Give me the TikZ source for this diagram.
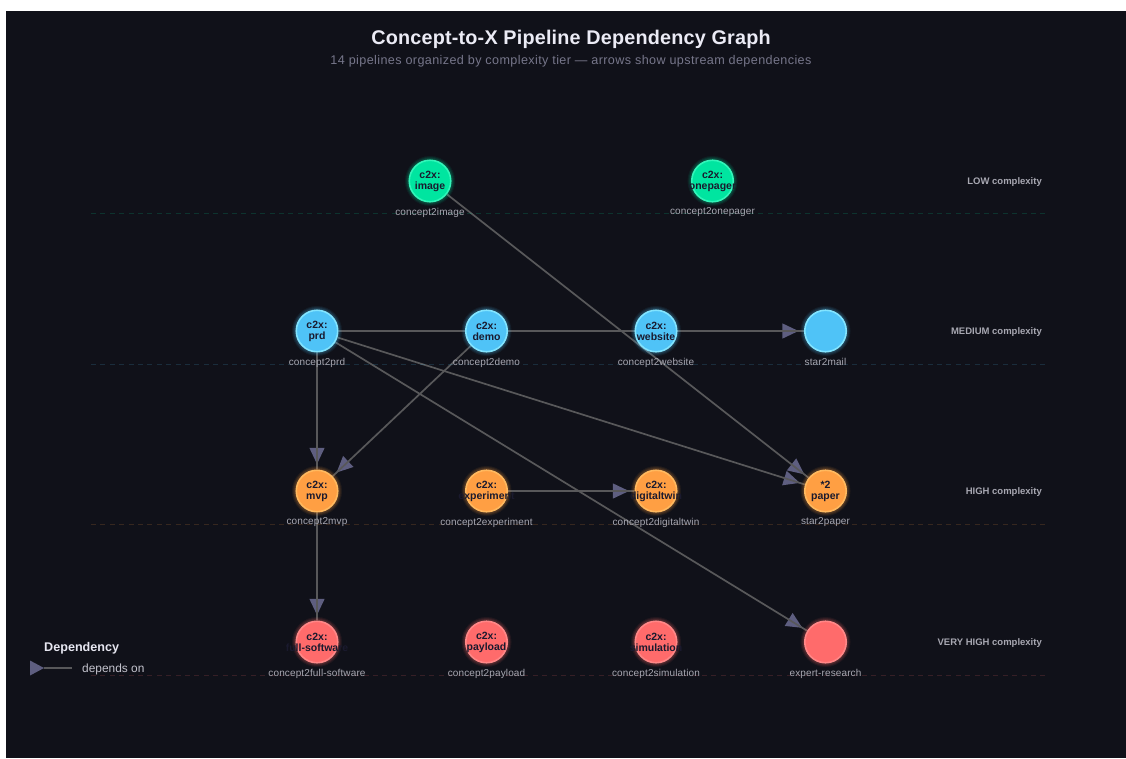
\documentclass[tikz,border=0pt]{standalone}
\usepackage{fontspec}
\setmainfont{Liberation Sans}
\usetikzlibrary{decorations.markings}
\pgfdeclarelayer{bgl}
\pgfdeclarelayer{edges}
\pgfsetlayers{bgl,edges,main}
\definecolor{bgc}{RGB}{16,17,25}
\definecolor{cgreen}{RGB}{0,229,160}
\definecolor{sgreen}{RGB}{50,245,185}
\definecolor{cblue}{RGB}{79,195,247}
\definecolor{sblue}{RGB}{130,228,255}
\definecolor{corange}{RGB}{255,159,67}
\definecolor{sorange}{RGB}{255,185,95}
\definecolor{cred}{RGB}{255,107,107}
\definecolor{sred}{RGB}{255,135,135}
\definecolor{ink}{RGB}{26,26,46}
\definecolor{linec}{RGB}{88,88,90}
\definecolor{tipc}{RGB}{94,94,128}
\definecolor{subc}{RGB}{168,168,178}
\newcommand\twol[2]{\vbox{\baselineskip=11pt\hbox to 0pt{\hss #1\hss}\hbox to 0pt{\hss #2\hss}}}
\tikzset{
  pnode/.style n args={2}{circle,minimum size=41.5pt,inner sep=0pt,fill=#1,draw=#2,line width=1.6pt,text=ink,
    font=\fontsize{10.5}{11}\selectfont\bfseries,
    preaction={draw=#1,draw opacity=.07,line width=8.5pt},
    preaction={draw=#1,draw opacity=.09,line width=6.5pt},
    preaction={draw=#1,draw opacity=.12,line width=4.5pt}},
  gnode/.style={pnode={cgreen}{sgreen}},
  bnode/.style={pnode={cblue}{sblue}},
  onode/.style={pnode={corange}{sorange}},
  rnode/.style={pnode={cred}{sred}},
  sublab/.style={text=subc,font=\fontsize{10}{11}\selectfont\addfontfeature{LetterSpace=1.3},inner sep=0pt},
  tierlab/.style={text=subc,font=\fontsize{9.5}{11}\selectfont\bfseries,anchor=east,inner sep=0pt},
  tierline/.style={draw=#1,draw opacity=.16,line width=.9pt,dash pattern=on 5pt off 4.4pt},
  edge/.style={draw=linec,line width=1.7pt,preaction={decorate,decoration={markings,
    mark=at position -5.5pt with {\fill[tipc] (-16,-7.6) -- (0,0) -- (-16,7.6) -- cycle;}}}},
}
\begin{document}
\begin{tikzpicture}[x=1pt,y=-1pt]
\useasboundingbox (0,0) rectangle (1126,758);
\begin{pgfonlayer}{bgl}
\fill[white] (0,0) rectangle (1126,758);
\fill[bgc] (6,11) rectangle (1126,758);
\end{pgfonlayer}
\node[text={rgb,255:red,235;green,235;blue,245},font=\fontsize{19.8}{22}\selectfont\bfseries\addfontfeature{LetterSpace=1}] (title) at (571,39) {Concept-to-X Pipeline Dependency Graph};
\node[text={rgb,255:red,118;green,118;blue,138},font=\fontsize{12.6}{14}\selectfont\addfontfeature{LetterSpace=3.1}] (subtitle) at (571,61) {14 pipelines organized by complexity tier — arrows show upstream dependencies};
\coordinate (t1a) at (91,213); \coordinate (t1b) at (1046,213);
\coordinate (t2a) at (91,364.5); \coordinate (t2b) at (1046,364.5);
\coordinate (t3a) at (91,524.5); \coordinate (t3b) at (1046,524.5);
\coordinate (t4a) at (91,675); \coordinate (t4b) at (1046,675);
\draw[tierline=cgreen] (t1a) -- (t1b);
\draw[tierline=cblue] (t2a) -- (t2b);
\draw[tierline=corange] (t3a) -- (t3b);
\draw[tierline=cred] (t4a) -- (t4b);
\node[gnode] (image) at (430,181) {\twol{c2x:}{image}};
\node[gnode] (onepager) at (712.5,181) {\twol{c2x:}{onepager}};
\node[bnode] (prd) at (317,331) {\twol{c2x:}{prd}};
\node[bnode] (demo) at (486.5,331) {\twol{c2x:}{demo}};
\node[bnode] (website) at (656,331) {\twol{c2x:}{website}};
\node[bnode] (mail) at (825.5,331) {};
\node[onode] (mvp) at (317,491) {\twol{c2x:}{mvp}};
\node[onode] (experiment) at (486.5,491) {\twol{c2x:}{experiment}};
\node[onode] (digitaltwin) at (656,491) {\twol{c2x:}{digitaltwin}};
\node[onode] (paper) at (825.5,491) {\twol{*2}{paper}};
\node[rnode] (fullsw) at (317,642) {\twol{c2x:}{full-software}};
\node[rnode] (payload) at (486.5,642) {\twol{c2x:}{payload}};
\node[rnode] (simulation) at (656,642) {\twol{c2x:}{simulation}};
\node[rnode] (expert) at (825.5,642) {};
\node[sublab] (limage) at (430,212.5) {concept2image};
\node[sublab] (lonepager) at (712.5,212.5) {concept2onepager};
\node[sublab] (lprd) at (317,362.5) {concept2prd};
\node[sublab] (ldemo) at (486.5,362.5) {concept2demo};
\node[sublab] (lwebsite) at (656,362.5) {concept2website};
\node[sublab] (lmail) at (825.5,362) {star2mail};
\node[sublab] (lmvp) at (317,522.5) {concept2mvp};
\node[sublab] (lexperiment) at (486.5,522.5) {concept2experiment};
\node[sublab] (ldigitaltwin) at (656,522.5) {concept2digitaltwin};
\node[sublab] (lpaper) at (825.5,522.5) {star2paper};
\node[sublab] (lfullsw) at (317,673.5) {concept2full-software};
\node[sublab] (lpayload) at (486.5,673.5) {concept2payload};
\node[sublab] (lsimulation) at (656,673.5) {concept2simulation};
\node[sublab] (lexpert) at (825.5,673.5) {expert-research};
\node[tierlab] (tl1) at (1042,182.5) {LOW complexity};
\node[tierlab] (tl2) at (1042,332.5) {MEDIUM complexity};
\node[tierlab] (tl3) at (1042,492.5) {HIGH complexity};
\node[tierlab] (tl4) at (1042,643.5) {VERY HIGH complexity};
\begin{pgfonlayer}{edges}
\draw[edge] (image) -- (paper);
\draw[edge] (prd) -- (mail);
\draw[edge] (prd) -- (mvp);
\draw[edge] (prd) -- (paper);
\draw[edge] (prd) -- (expert);
\draw[edge] (demo) -- (mvp);
\draw[edge] (mvp) -- (fullsw);
\draw[edge] (experiment) -- (digitaltwin);
\end{pgfonlayer}
\node[anchor=west,inner sep=0pt,text={rgb,255:red,230;green,230;blue,240},font=\fontsize{12.6}{14}\selectfont\bfseries] (legendtitle) at (44,648.5) {Dependency};
\coordinate (la) at (30,668); \coordinate (lt) at (44,668); \coordinate (lb) at (72,668);
\fill[tipc] (30,660.5) -- (lt) -- (30,675.5) -- cycle;
\draw[draw=linec,line width=1.7pt] (lt) -- (lb);
\node[anchor=west,inner sep=0pt,text={rgb,255:red,195;green,195;blue,205},font=\fontsize{11.9}{13}\selectfont] (legendtext) at (82,669) {depends on};
\end{tikzpicture}
\end{document}
